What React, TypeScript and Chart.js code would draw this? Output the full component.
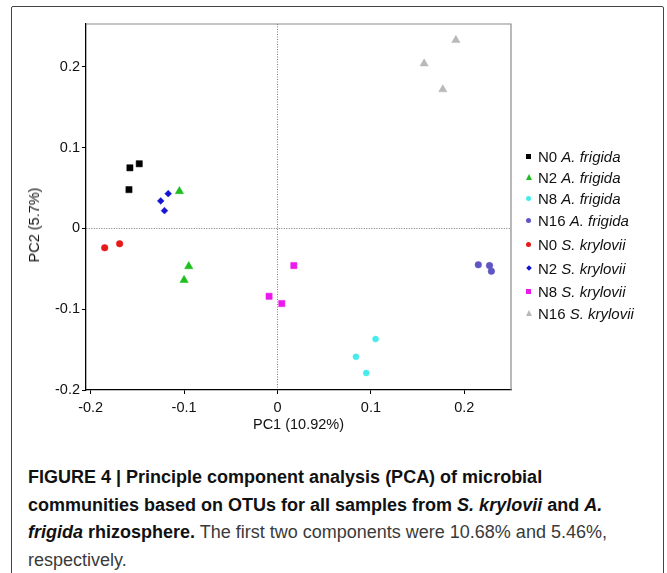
import React, { useEffect, useRef } from "react";
import { Chart, registerables } from "chart.js";

Chart.register(...registerables);

// ---- data ----
const seriesNames = [
  ["N0", "A. frigida"],
  ["N2", "A. frigida"],
  ["N8", "A. frigida"],
  ["N16", "A. frigida"],
  ["N0", "S. krylovii"],
  ["N2", "S. krylovii"],
  ["N8", "S. krylovii"],
  ["N16", "S. krylovii"],
];

const n0Frigida = [
  { x: -0.158, y: 0.075 },
  { x: -0.148, y: 0.08 },
  { x: -0.159, y: 0.048 },
];
const n2Frigida = [
  { x: -0.105, y: 0.046 },
  { x: -0.095, y: -0.047 },
  { x: -0.1, y: -0.064 },
];
const n8Frigida = [
  { x: 0.105, y: -0.137 },
  { x: 0.084, y: -0.159 },
  { x: 0.095, y: -0.179 },
];
const n16Frigida = [
  { x: 0.215, y: -0.045 },
  { x: 0.227, y: -0.046 },
  { x: 0.229, y: -0.053 },
];
const n0Krylovii = [
  { x: -0.185, y: -0.024 },
  { x: -0.169, y: -0.019 },
];
const n2Krylovii = [
  { x: -0.117, y: 0.043 },
  { x: -0.125, y: 0.034 },
  { x: -0.121, y: 0.022 },
];
const n8Krylovii = [
  { x: 0.0175, y: -0.046 },
  { x: -0.009, y: -0.084 },
  { x: 0.0046, y: -0.093 },
];
const n16Krylovii = [
  { x: 0.191, y: 0.233 },
  { x: 0.157, y: 0.204 },
  { x: 0.177, y: 0.172 },
];

const seriesData = [
  n0Frigida,
  n2Frigida,
  n8Frigida,
  n16Frigida,
  n0Krylovii,
  n2Krylovii,
  n8Krylovii,
  n16Krylovii,
];

const xTickValues = [-0.2, -0.1, 0, 0.1, 0.2];
const yTickValues = [-0.2, -0.1, 0, 0.1, 0.2];
const xTitle = "PC1 (10.92%)";
const yTitle = "PC2 (5.7%)";

// ---- styles ----
const colors = [
  "rgb(0,0,0)",
  "rgb(30,190,30)",
  "rgb(70,235,235)",
  "rgb(95,85,195)",
  "rgb(230,25,25)",
  "rgb(20,20,210)",
  "rgb(235,25,235)",
  "rgb(185,185,185)",
];
const pointStyles = [
  "rect",
  "triangle",
  "circle",
  "circle",
  "circle",
  "rectRot",
  "rect",
  "triangle",
];
const pointRadii = [4.4, 4.8, 3, 3.3, 3.3, 3.4, 4.4, 4.8];
// legend row heights (layout only)
const legendRowHeights = [19, 22, 21, 23, 24, 24, 22, 22];

const FONT = "'Liberation Sans', Arial, Helvetica, sans-serif";

function LegendMarker({ style, color }: { style: string; color: string }) {
  if (style === "triangle") {
    return (
      <span
        style={{
          display: "inline-block",
          width: 0,
          height: 0,
          borderLeft: "3.5px solid transparent",
          borderRight: "3.5px solid transparent",
          borderBottom: `6px solid ${color}`,
        }}
      />
    );
  }
  if (style === "rectRot") {
    return (
      <span
        style={{
          display: "inline-block",
          width: 4,
          height: 4,
          background: color,
          transform: "rotate(45deg)",
        }}
      />
    );
  }
  return (
    <span
      style={{
        display: "inline-block",
        width: 5,
        height: 5,
        background: color,
        borderRadius: style === "circle" ? "50%" : 0,
      }}
    />
  );
}

export default function App() {
  const canvasRef = useRef<HTMLCanvasElement | null>(null);

  useEffect(() => {
    const canvas = canvasRef.current;
    if (!canvas) return;

    const framePlugin = {
      id: "framePlugin",
      afterDatasetsDraw(chart: any) {
        const { ctx, chartArea } = chart;
        ctx.save();
        ctx.strokeStyle = "#8a8a8a";
        ctx.lineWidth = 1.2;
        ctx.beginPath();
        ctx.moveTo(chartArea.left, chartArea.top);
        ctx.lineTo(chartArea.right, chartArea.top);
        ctx.lineTo(chartArea.right, chartArea.bottom);
        ctx.stroke();
        ctx.restore();
      },
    };

    const gridColor = (c: any) =>
      c.tick && c.tick.value === 0 ? "#7a7a7a" : "rgba(0,0,0,0)";

    const chart = new Chart(canvas, {
      type: "scatter",
      data: {
        datasets: seriesData.map((d, i) => ({
          label: seriesNames[i].join(" "),
          data: d,
          backgroundColor: colors[i],
          borderColor: colors[i],
          pointStyle: pointStyles[i] as any,
          pointRadius: pointRadii[i],
          pointBorderWidth: 0.5,
        })),
      },
      options: {
        animation: false,
        responsive: false,
        devicePixelRatio: 1,
        layout: { padding: { left: 0, top: 24, right: 156, bottom: 0 } },
        plugins: {
          legend: { display: false },
          tooltip: { enabled: false },
        },
        scales: {
          x: {
            type: "linear",
            min: -0.205,
            max: 0.25,
            afterFit: (s: any) => {
              s.height = 50;
            },
            afterBuildTicks: (s: any) => {
              s.ticks = xTickValues.map((v) => ({ value: v }));
            },
            ticks: {
              color: "#111",
              font: { family: FONT, size: 14.5 },
              padding: 5,
              callback: (v: any) => String(Math.round(Number(v) * 10) / 10),
            },
            grid: {
              color: gridColor,
              lineWidth: 1,
              tickColor: "#000",
              tickLength: 4,
              drawTicks: true,
            },
            border: { display: true, color: "#000", width: 1.3, dash: [1, 1.5] },
            title: {
              display: true,
              text: xTitle,
              color: "#111",
              font: { family: FONT, size: 14.5 },
              padding: { top: 0, bottom: 6 },
            },
          },
          y: {
            type: "linear",
            min: -0.2,
            max: 0.253,
            afterFit: (s: any) => {
              s.width = 86;
            },
            afterBuildTicks: (s: any) => {
              s.ticks = yTickValues.map((v) => ({ value: v }));
            },
            ticks: {
              color: "#111",
              font: { family: FONT, size: 14.5 },
              padding: 2,
              callback: (v: any) => String(Math.round(Number(v) * 10) / 10),
            },
            grid: {
              color: gridColor,
              lineWidth: 1,
              tickColor: "#000",
              tickLength: 4,
              drawTicks: true,
            },
            border: { display: true, color: "#000", width: 1.3, dash: [1, 1.5] },
            title: {
              display: false,
              text: yTitle,
            },
          },
        },
      },
      plugins: [framePlugin],
    });

    return () => chart.destroy();
  }, []);

  return (
    <div
      style={{
        position: "absolute",
        left: 0,
        top: 0,
        width: 667,
        height: 573,
        background: "#fff",
        overflow: "hidden",
        fontFamily: FONT,
      }}
    >
      <div
        style={{
          position: "absolute",
          left: 11,
          top: 6,
          width: 653,
          height: 580,
          border: "1.5px solid #444",
          borderRadius: 2,
          boxSizing: "border-box",
        }}
      />
      <canvas
        ref={canvasRef}
        width={667}
        height={440}
        style={{ position: "absolute", left: 0, top: 0, width: 667, height: 440 }}
      />
      <div
        style={{
          position: "absolute",
          left: 34,
          top: 225,
          transform: "translate(-50%, -50%) rotate(-90deg)",
          fontSize: 14.5,
          color: "#111",
          whiteSpace: "nowrap",
        }}
      >
        {yTitle}
      </div>
      <div
        style={{
          position: "absolute",
          left: 519,
          top: 147,
          fontSize: 15,
          color: "#111",
        }}
      >
        {seriesNames.map((n, i) => (
          <div
            key={i}
            style={{
              height: legendRowHeights[i],
              display: "flex",
              alignItems: "center",
              whiteSpace: "nowrap",
            }}
          >
            <span style={{ width: 19, display: "inline-flex", justifyContent: "center", alignItems: "center" }}>
              <LegendMarker style={pointStyles[i]} color={colors[i]} />
            </span>
            <span>
              {n[0]} <i>{n[1]}</i>
            </span>
          </div>
        ))}
      </div>
      <div
        style={{
          position: "absolute",
          left: 28,
          top: 464,
          width: 630,
          fontSize: 18,
          lineHeight: "27.5px",
          color: "#111",
          whiteSpace: "nowrap",
        }}
      >
        <b>FIGURE 4 | Principle component analysis (PCA) of microbial</b>
        <br />
        <b>
          communities based on OTUs for all samples from <i>S. krylovii</i> and <i>A.</i>
        </b>
        <br />
        <b>
          <i>frigida</i> rhizosphere.
        </b>
        <span style={{ color: "#3a3a3a" }}> The first two components were 10.68% and 5.46%,</span>
        <br />
        <span style={{ color: "#3a3a3a" }}>respectively.</span>
      </div>
    </div>
  );
}
